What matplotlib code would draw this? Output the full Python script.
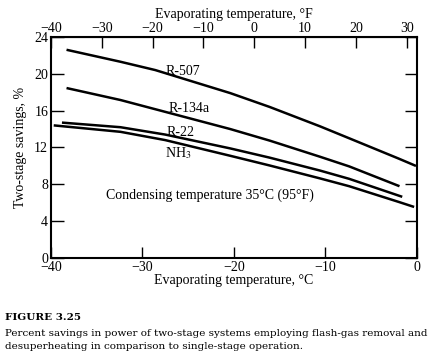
import matplotlib
matplotlib.use('Agg')
from matplotlib import pyplot as plt
import numpy as np

plt.rcParams['font.family'] = ['Liberation Serif', 'DejaVu Serif']
plt.rcParams['mathtext.fontset'] = 'stix'

# values (evaporating temperature in C, savings in %)
t_r507 = [-38.3, -32.4, -28.6, -20.4, -16.1, -10.6, -7.4, -2.0, -0.1]
s_r507 = [22.6, 21.3, 20.4, 17.9, 16.4, 14.3, 13.0, 10.8, 10.0]

t_r134a = [-38.3, -32.4, -20.4, -16.1, -10.6, -7.4, -1.9]
s_r134a = [18.45, 17.15, 14.0, 12.75, 11.0, 9.95, 7.8]

t_r22 = [-38.8, -32.4, -27.5, -20.4, -16.1, -10.6, -7.4, -1.6]
s_r22 = [14.7, 14.2, 13.4, 11.9, 10.9, 9.5, 8.6, 6.65]

t_nh3 = [-39.7, -32.4, -27.5, -20.4, -16.1, -10.6, -7.4, -2.0, -0.3]
s_nh3 = [14.4, 13.7, 12.8, 11.1, 10.05, 8.65, 7.8, 6.1, 5.55]

curve_labels = ['R-507', 'R-134a', 'R-22', r'NH$_3$']
label_pos = [(-27.5, 19.9), (-27.2, 15.9), (-27.4, 13.3), (-27.5, 10.9)]

c_ticks = [-40, -30, -20, -10, 0]
f_ticks = [-40, -30, -20, -10, 0, 10, 20, 30]
y_ticks = [0, 4, 8, 12, 16, 20, 24]


def c2f(c):
    return np.asarray(c) * 9.0 / 5.0 + 32.0


def f2c(f):
    return (np.asarray(f) - 32.0) * 5.0 / 9.0


fig = plt.figure(figsize=(4.32, 3.58), dpi=100)
ax = fig.add_axes([0.118, 0.279, 0.847, 0.618])

for t, s in [(t_r507, s_r507), (t_r134a, s_r134a), (t_r22, s_r22), (t_nh3, s_nh3)]:
    ax.plot(t, s, color='black', lw=1.8, solid_capstyle='butt',
            solid_joinstyle='round')

for lab, (x, y) in zip(curve_labels, label_pos):
    ax.text(x, y, lab, fontsize=10, ha='left', va='baseline')

ax.text(-34.0, 6.4, 'Condensing temperature 35°C (95°F)', fontsize=10,
        ha='left', va='baseline')

ax.set_xlim(-40, 0)
ax.set_ylim(0, 24)
ax.set_xticks(c_ticks)
ax.set_yticks(y_ticks)
ax.tick_params(axis='x', direction='in', length=8, width=1, labelsize=10, pad=2)
ax.tick_params(axis='y', direction='in', length=9, width=1, labelsize=10,
               right=True, pad=2)
for sp in ax.spines.values():
    sp.set_linewidth(1.5)

ax.set_xlabel('Evaporating temperature, °C', fontsize=10, labelpad=0)
ax.set_ylabel('Two-stage savings, %', fontsize=10, labelpad=5)

top = ax.secondary_xaxis('top', functions=(c2f, f2c))
top.set_xticks(f_ticks)
top.tick_params(direction='in', length=8, width=1, labelsize=10, pad=1)
top.set_xlabel('Evaporating temperature, °F', fontsize=10, labelpad=3)

fig.text(0.012, 0.105, 'FIGURE 3.25', fontsize=7.5, fontweight='bold',
         family='DejaVu Serif')
fig.text(0.012, 0.062,
         'Percent savings in power of two-stage systems employing flash-gas removal and',
         fontsize=7.5, family='DejaVu Serif')
fig.text(0.012, 0.026, 'desuperheating in comparison to single-stage operation.',
         fontsize=7.5, family='DejaVu Serif')

plt.savefig('out.png', dpi=100)
